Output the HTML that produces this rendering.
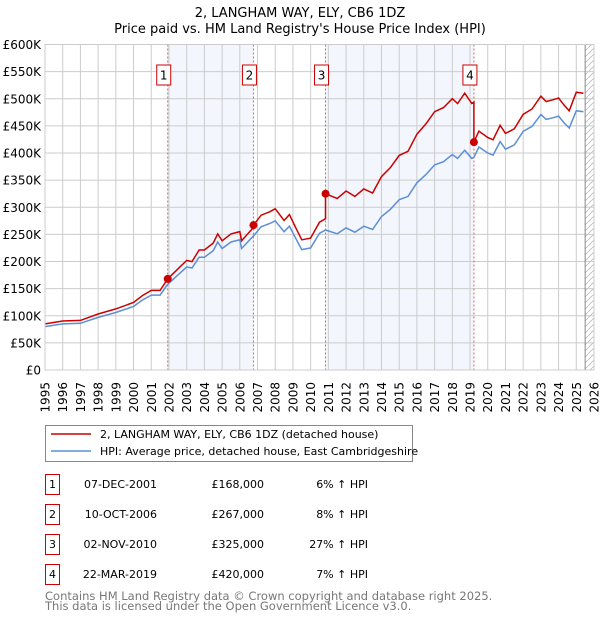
<!DOCTYPE html>
<html><head><meta charset="utf-8">
<style>
body{margin:0;background:#fff;font-family:"DejaVu Sans","Liberation Sans",sans-serif;}
#wrap{position:relative;width:600px;height:620px;overflow:hidden;}
svg text{font-family:"DejaVu Sans","Liberation Sans",sans-serif;}
</style></head><body>
<div id="wrap">
<svg id="chart" width="600" height="620"></svg>
</div>
<script>
const hpiYears=[1995,1996,1997,1998,1999,2000,2000.5,2001,2001.5,2001.93,2002.5,2003,2003.3,2003.7,2004,2004.5,2004.75,2005,2005.5,2006,2006.1,2006.77,2007.2,2007.7,2008,2008.5,2008.8,2009.2,2009.5,2010,2010.5,2010.84,2011.5,2012,2012.5,2013,2013.5,2014,2014.5,2015,2015.5,2016,2016.5,2017,2017.5,2018,2018.3,2018.7,2019.1,2019.22,2019.5,2020,2020.3,2020.7,2021,2021.5,2022,2022.5,2023,2023.3,2023.7,2024,2024.3,2024.6,2025,2025.4];
const hpiValues=[80,85,86,97,106,117,129,138,138,158,175,190,188,208,208,220,236,224,236,240,224,247,264,270,275,255,265,240,222,225,252,258,251,262,254,265,259,283,296,314,320,345,360,378,384,397,390,405,390,392,411,400,396,421,407,415,440,449,471,462,465,468,456,446,478,476];
const saleYears=[2001.93,2006.77,2010.84,2019.22];
const salePrices=[168,267,325,420];
const saleLabels=["1","2","3","4"];
const yTicks=[0,50,100,150,200,250,300,350,400,450,500,550,600];
const xTickYears=[];for(let y=1995;y<=2026;y++)xTickYears.push(y);

const svg=document.getElementById('chart');const NS='http://www.w3.org/2000/svg';
const X0=45,X1=594,Y0=370,Y1=44.5;
const xs=t=>X0+(t-1995)/(2026-1995)*(X1-X0);
const ys=v=>Y0-v/600*(Y0-Y1);
function mk(tag,attrs,name,parent){const e=document.createElementNS(NS,tag);for(const k in attrs)e.setAttribute(k,attrs[k]);


(parent||svg).appendChild(e);return e;}
function interp(t){for(let i=0;i<hpiYears.length-1;i++){if(t>=hpiYears[i]&&t<=hpiYears[i+1]){const f=(t-hpiYears[i])/(hpiYears[i+1]-hpiYears[i]);return hpiValues[i]+f*(hpiValues[i+1]-hpiValues[i]);}}return hpiValues[hpiValues.length-1];}
let t=mk('text',{x:300,y:17,'text-anchor':'middle','font-size':13,fill:'#000'},'chart-title');t.textContent='2, LANGHAM WAY, ELY, CB6 1DZ';
t=mk('text',{x:300,y:33,'text-anchor':'middle','font-size':13,fill:'#000'},'chart-subtitle');t.textContent="Price paid vs. HM Land Registry's House Price Index (HPI)";
for(let i=0;i<saleYears.length-1;i+=2){mk('rect',{x:xs(saleYears[i]),y:Y1,width:xs(saleYears[i+1])-xs(saleYears[i]),height:Y0-Y1,fill:'#f3f6fd'},'ownership-shade');}
const defs=mk('defs',{},'defs');const pat=mk('pattern',{id:'hatch',width:6,height:6,patternUnits:'userSpaceOnUse'},'hatch-pattern',defs);
mk('path',{d:'M0,6L6,0',stroke:'#bbb','stroke-width':0.8},'hatch-line',pat);
const lastX=xs(2025.5);
mk('rect',{x:lastX,y:Y1,width:X1-lastX,height:Y0-Y1,fill:'url(#hatch)'},'future-hatch');
yTicks.forEach(v=>{mk('line',{x1:X0,x2:X1,y1:ys(v),y2:ys(v),stroke:'#ccc','stroke-width':1},'y-gridline');
const l=mk('text',{x:41,y:ys(v)+4.5,'text-anchor':'end','font-size':12,fill:'#000'},'y-tick-label');l.textContent=v===0?'£0':'£'+v+'K';});
xTickYears.forEach(yr=>{mk('line',{x1:xs(yr),x2:xs(yr),y1:Y1,y2:Y0,stroke:'#ccc','stroke-width':1},'x-gridline');
const l=mk('text',{x:0,y:0,'text-anchor':'end','font-size':12,fill:'#000',transform:`translate(${xs(yr)+4.5},${Y0+12}) rotate(-90)`},'x-tick-label');l.textContent=yr;});
mk('line',{x1:lastX,x2:lastX,y1:Y1,y2:Y0,stroke:'#888','stroke-width':1},'data-end-line');
saleYears.forEach((s,i)=>{mk('line',{x1:xs(s),x2:xs(s),y1:Y1,y2:Y0,stroke:'#e06060','stroke-width':1,'stroke-dasharray':'2,2'},'sale-line-'+saleLabels[i]);});
let d=hpiYears.map((yr,i)=>(i?'L':'M')+xs(yr).toFixed(1)+','+ys(hpiValues[i]).toFixed(1)).join('');
mk('path',{d:d,fill:'none',stroke:'#5b8fd6','stroke-width':1.5},'hpi-line');
const pts=[];
hpiYears.forEach(yr=>{let k=0;for(let j=0;j<saleYears.length;j++)if(yr>=saleYears[j])k=j;
const r=salePrices[k]/interp(saleYears[k]);pts.push([yr,interp(yr)*r]);});
saleYears.forEach((s,j)=>{if(j>0){const before=salePrices[j-1]/interp(saleYears[j-1])*interp(s);pts.push([s-0.0001,before]);}pts.push([s,salePrices[j]]);});
pts.sort((a,b)=>a[0]-b[0]);
d=pts.map((p,i)=>(i?'L':'M')+xs(p[0]).toFixed(1)+','+ys(p[1]).toFixed(1)).join('');
mk('path',{d:d,fill:'none',stroke:'#cc0000','stroke-width':1.5},'property-price-line');
saleYears.forEach((s,i)=>{mk('circle',{cx:xs(s),cy:ys(salePrices[i]),r:4,fill:'#cc0000'},'sale-marker-'+saleLabels[i]);
const bx=xs(s)-11;mk('rect',{x:bx,y:65,width:14,height:20,fill:'#fff',stroke:'#cc0000','stroke-width':1},'sale-label-box-'+saleLabels[i]);
const tt=mk('text',{x:bx+7,y:79.5,'text-anchor':'middle','font-size':12,fill:'#000'},'sale-label-'+saleLabels[i]);tt.textContent=saleLabels[i];});
mk('rect',{x:X0,y:Y1,width:X1-X0,height:Y0-Y1,fill:'none',stroke:'#ccc'},'plot-border');
mk('rect',{x:45.5,y:425.5,width:367,height:36,fill:'#fff',stroke:'#888'},'legend-box');
mk('line',{x1:51,x2:91,y1:434,y2:434,stroke:'#cc0000','stroke-width':1.5},'legend-property-swatch');
mk('line',{x1:51,x2:91,y1:451,y2:451,stroke:'#5b8fd6','stroke-width':1.5},'legend-hpi-swatch');
t=mk('text',{x:100,y:438,'font-size':11,fill:'#000'},'legend-property-label');t.textContent='2, LANGHAM WAY, ELY, CB6 1DZ (detached house)';
t=mk('text',{x:100,y:455,'font-size':11,fill:'#000'},'legend-hpi-label');t.textContent='HPI: Average price, detached house, East Cambridgeshire';
const dates=["07-DEC-2001","10-OCT-2006","02-NOV-2010","22-MAR-2019"];
const prices=["£168,000","£267,000","£325,000","£420,000"];
const pct=["6% ↑ HPI","8% ↑ HPI","27% ↑ HPI","7% ↑ HPI"];
const rowY=[483,513,543,573];
rowY.forEach((ry,i)=>{mk('rect',{x:45.5,y:ry-8.5,width:14,height:20,fill:'#fff',stroke:'#cc0000'},'table-num-box-'+(i+1));
let e=mk('text',{x:52.5,y:ry+5,'text-anchor':'middle','font-size':11},'table-num-'+(i+1));e.textContent=saleLabels[i];
e=mk('text',{x:157,y:ry+5,'text-anchor':'end','font-size':11},'table-date-'+(i+1));e.textContent=dates[i];
e=mk('text',{x:264,y:ry+5,'text-anchor':'end','font-size':11},'table-price-'+(i+1));e.textContent=prices[i];
e=mk('text',{x:368,y:ry+5,'text-anchor':'end','font-size':11},'table-hpi-'+(i+1));e.textContent=pct[i];});
t=mk('text',{x:45,y:600,'font-size':11.5,fill:'#777'},'footer-line-1');t.textContent='Contains HM Land Registry data © Crown copyright and database right 2025.';
t=mk('text',{x:45,y:610,'font-size':11.5,fill:'#777'},'footer-line-2');t.textContent='This data is licensed under the Open Government Licence v3.0.';
</script>
</body></html>
